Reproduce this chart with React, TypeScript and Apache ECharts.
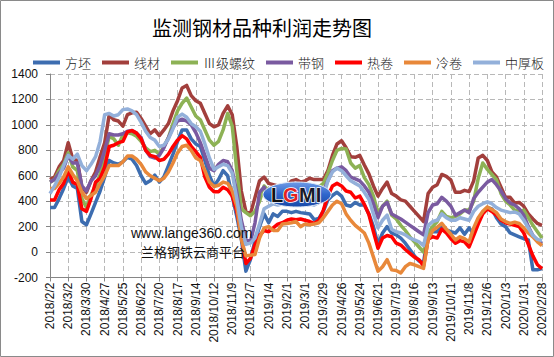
import React, { useEffect, useRef } from "react";
import * as echarts from "echarts";

const seriesNames = ["方坯", "线材", "Ⅲ级螺纹", "带钢", "热卷", "冷卷", "中厚板"];
const seriesColors = ["#3D6DB0", "#A23F3C", "#8DB255", "#7A5AA0", "#FF0000", "#E8883A", "#93B0DA"];

const startDate = [2018, 2, 2];
const weekCount = 109;
const yTicks = { min: -200, max: 1400, interval: 200 };

const fangpi = [350,350,420,500,590,520,500,240,215,300,
390,480,590,720,700,690,710,745,730,680,
600,540,560,605,550,590,680,770,870,960,
960,890,850,830,720,600,520,570,640,600,
440,280,100,-150,-60,90,200,300,230,300,
280,320,320,310,320,310,305,300,255,265,
320,410,445,470,440,370,360,390,370,370,
300,200,60,150,200,150,135,110,70,20,
-30,-70,-80,140,160,160,210,175,160,150,
190,140,190,140,250,310,350,340,270,220,
200,150,135,120,105,95,-140,-140,-130];

const xiancai = [570,590,670,720,860,730,720,510,470,560,
630,750,860,1080,1040,1030,990,1080,1095,1100,
1050,990,930,960,915,960,1010,1110,1190,1290,
1310,1230,1190,1170,1090,1010,985,1000,1090,1150,
1080,830,480,320,300,430,560,590,540,530,
520,510,520,560,570,550,560,580,570,570,
570,640,760,850,875,820,750,745,760,685,
615,520,440,500,550,460,440,410,400,360,
320,280,240,460,510,530,610,595,565,470,
470,485,475,560,740,760,720,630,590,510,
430,430,385,390,360,300,260,225,210];

const luowen = [550,570,640,690,780,670,640,420,350,450,
520,610,760,910,890,840,920,940,930,910,
870,820,790,800,770,830,900,1010,1110,1170,
1210,1140,1070,1040,960,880,840,870,960,1090,
990,640,340,310,285,320,400,520,480,470,
470,480,480,470,490,480,500,510,500,510,
540,620,720,800,815,810,700,660,680,585,
530,440,310,360,400,290,260,210,170,120,
80,40,0,150,200,240,320,280,270,280,
300,330,330,400,580,700,650,610,570,460,
400,370,330,320,330,270,210,160,110];

const daigang = [550,570,620,660,760,700,700,520,480,560,
600,680,800,930,920,920,930,950,955,935,
900,800,750,740,760,820,900,980,1030,1045,
1030,1000,940,860,760,660,640,690,720,710,
640,470,250,100,80,230,470,510,440,460,
450,440,440,450,460,450,450,460,460,470,
480,560,640,660,670,640,590,575,560,520,
470,380,270,360,390,300,280,260,235,210,
185,160,135,310,370,380,430,400,360,290,
310,330,310,420,470,510,550,570,530,480,
420,385,370,340,290,200,130,90,70];

const rejuan = [410,410,490,540,640,550,530,340,320,420,
550,580,670,830,840,860,870,945,955,935,
890,800,760,750,720,730,770,830,880,915,
890,830,790,745,590,510,475,475,510,490,
440,320,130,-90,-50,60,130,170,160,190,
220,230,250,260,255,260,250,240,225,250,
330,440,520,540,520,480,470,425,440,375,
295,160,30,110,130,120,70,55,20,-10,
-40,-60,-110,100,120,110,180,150,105,70,
90,80,40,130,220,300,340,320,290,250,
230,220,210,200,150,60,-30,-100,-130];

const lengjuan = [500,500,540,590,670,610,560,470,420,445,
470,540,600,680,680,680,710,755,755,730,
690,630,600,580,560,580,630,700,780,830,
840,800,740,720,640,550,515,525,550,540,
480,360,100,-30,-25,-20,110,190,200,170,
170,220,225,230,240,200,220,215,220,230,
270,320,370,400,380,300,250,210,180,150,
70,-40,-150,-115,-60,-140,-145,-165,-115,-90,
-100,-115,-128,100,170,195,225,180,140,95,
120,105,80,190,270,320,355,335,310,260,
240,225,235,225,190,150,120,80,50];

const zhonghouban = [460,520,590,680,760,730,770,680,640,690,
750,870,1080,1090,1070,1080,1120,1125,1110,1080,
1020,950,900,880,830,840,890,970,1060,1085,
1060,1010,985,950,850,740,650,670,690,680,
620,420,200,60,70,110,220,340,360,380,
370,380,380,390,400,380,370,380,370,390,
430,560,630,660,640,600,560,540,520,470,
415,300,190,250,290,180,160,150,135,110,
95,80,50,210,240,250,300,270,250,250,
270,260,250,320,360,380,395,380,350,330,
320,310,315,300,250,190,130,100,90];

const allSeries = [fangpi, xiancai, luowen, daigang, rejuan, lengjuan, zhonghouban];

function buildDates(): string[] {
  const out: string[] = [];
  for (let k = 0; k < weekCount; k++) {
    const d = new Date(Date.UTC(startDate[0], startDate[1] - 1, startDate[2] + 7 * k));
    out.push(`${d.getUTCFullYear()}/${d.getUTCMonth() + 1}/${d.getUTCDate()}`);
  }
  return out;
}
const categories = buildDates();

const gridDash = { color: "#b8b8b8", type: [5, 3] as any, width: 1 };

export default function App() {
  const ref = useRef<HTMLDivElement>(null);
  useEffect(() => {
    document.body.style.margin = "0";
    if (!ref.current) return;
    const chart = echarts.init(ref.current, null, { renderer: "svg" });
    const logoFont = 'bold 20px "Liberation Sans", Arial, sans-serif';
    chart.setOption({
      animation: false,
      backgroundColor: "#ffffff",
      title: {
        text: "监测钢材品种利润走势图",
        left: 147,
        top: 12,
        textStyle: { fontSize: 20, fontWeight: "normal", color: "#000", fontFamily: "Noto Sans CJK SC" },
      },
      legend: {
        data: seriesNames,
        left: 28,
        top: 51,
        itemWidth: 27,
        itemHeight: 4,
        itemGap: 11,
        icon: "rect",
        textStyle: { fontSize: 13, color: "#222", fontWeight: 300, fontFamily: "Noto Sans CJK SC" },
      },
      grid: { left: 50, right: 12, top: 74, bottom: 79.5, containLabel: false },
      xAxis: {
        type: "category",
        data: categories,
        boundaryGap: false,
        axisLine: { onZero: false, lineStyle: { color: "#868686", width: 1 } },
        axisTick: { show: true, interval: 3, length: 4, lineStyle: { color: "#868686" } },
        axisLabel: {
          interval: 3,
          rotate: 90,
          margin: 5,
          fontSize: 12,
          color: "#111",
          fontFamily: "Liberation Sans",
        },
        splitLine: { show: true, interval: 3, lineStyle: gridDash },
      },
      yAxis: {
        type: "value",
        min: yTicks.min,
        max: yTicks.max,
        interval: yTicks.interval,
        axisLine: { show: true, lineStyle: { color: "#868686", width: 1 } },
        axisTick: { show: true, length: 4, lineStyle: { color: "#868686" } },
        axisLabel: {
          fontSize: 12,
          color: "#111",
          fontFamily: "Liberation Sans",
          margin: 12,
          formatter: (v: number) => String(v),
        },
        splitLine: { show: true, lineStyle: gridDash },
      },
      series: allSeries.map((arr, idx) => ({
        name: seriesNames[idx],
        type: "line",
        data: arr,
        symbol: "none",
        lineStyle: { width: 3.5, color: seriesColors[idx], join: "round" },
        itemStyle: { color: seriesColors[idx] },
      })),
      graphic: [
        {
          type: "rect",
          z: 200,
          silent: true,
          shape: { x: 0.5, y: 0.5, width: 553, height: 356 },
          style: { fill: "none", stroke: "#8a8a8a", lineWidth: 1 },
        },
        {
          type: "text",
          z: 100,
          x: 131,
          y: 233,
          style: {
            text: "www.lange360.com",
            font: '14px "Liberation Sans", Arial, sans-serif',
            fill: "#111",
            verticalAlign: "middle",
          },
        },
        {
          type: "text",
          z: 100,
          x: 141,
          y: 251,
          style: {
            text: "兰格钢铁云商平台",
            font: '13px "Noto Sans CJK SC"',
            fill: "#111",
            verticalAlign: "middle",
          },
        },
        {
          type: "ellipse",
          z: 100,
          shape: { cx: 297, cy: 194.5, rx: 34, ry: 12.5 },
          style: {
            fill: new echarts.graphic.LinearGradient(0, 0, 0, 1, [
              { offset: 0, color: "#6f9be6" },
              { offset: 0.5, color: "#2f66cc" },
              { offset: 1, color: "#1849a8" },
            ]),
            stroke: "#dfe8f8",
            lineWidth: 1,
          },
        },
        {
          type: "text",
          z: 101,
          x: 271,
          y: 195,
          style: { text: "L", font: logoFont, fill: "#111", stroke: "#ffffff", lineWidth: 1.5, verticalAlign: "middle" },
        },
        {
          type: "text",
          z: 101,
          x: 283,
          y: 195,
          style: { text: "G", font: logoFont, fill: "#e42222", stroke: "#ffffff", lineWidth: 1.5, verticalAlign: "middle" },
        },
        {
          type: "text",
          z: 101,
          x: 299,
          y: 195,
          style: { text: "MI", font: logoFont, fill: "#1a1a2a", stroke: "#ffffff", lineWidth: 1.5, verticalAlign: "middle" },
        },
      ],
    });
    return () => chart.dispose();
  }, []);
  return <div ref={ref} style={{ width: 554, height: 357 }} />;
}
